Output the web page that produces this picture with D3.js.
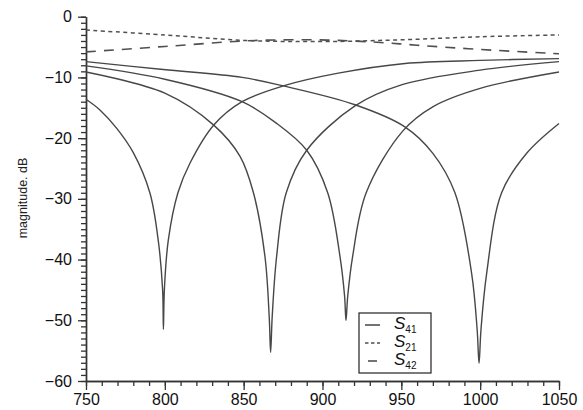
<!DOCTYPE html>
<html>
<head>
<meta charset="utf-8">
<script src="https://cdn.jsdelivr.net/npm/d3@7"></script>
<style>
	body { margin: 0; background: #fff; }
	svg { display: block; font-family: "Liberation Sans", Arial, sans-serif; }
</style>
</head>
<body>
<div id="chart"></div>
<script>
// frequency (x) and magnitude in dB (y)
var s41a = [[750,-13.6],[759,-15.4],[769.5,-18.4],[780,-22.4],[790.5,-29],[795.8,-36.8],[798.6,-45],[799.1,-51.5],[799.7,-45],[802.2,-36.8],[808.3,-29],[816,-24.1],[831.2,-17.8],[849,-14],[875.1,-11.4],[910,-9.3],[952.3,-7.7],[1000,-7.2],[1050,-6.9]];
var s41b = [[750,-9.1],[800,-12.6],[831.2,-17.9],[847.7,-23.0],[856.2,-29],[863.5,-39.5],[866.2,-49.4],[867.1,-55.3],[868.1,-49.4],[870.9,-39.5],[877,-29],[890,-22],[920.6,-14.7],[950.5,-11.2],[1000,-8.8],[1050,-7.4]];
var s41c = [[750,-8.1],[800,-10.3],[849,-14],[870,-17.4],[890,-22],[903.3,-29],[911.1,-39.5],[914,-46],[914.9,-50],[916,-46],[919.1,-39.5],[927.7,-29],[951,-18.8],[970.2,-14.8],[1000,-11.8],[1050,-9.1]];
var s41d = [[750,-7.4],[799,-8.7],[849,-10],[875.1,-11.4],[920.6,-14.5],[952,-18.1],[970,-22.5],[984,-29],[994.6,-42.3],[998.1,-51.6],[999.3,-57.1],[1000.5,-51.6],[1004.1,-42.3],[1013.6,-29],[1029.5,-22.5],[1050,-17.6]];
var s21 = [[750,-2.2],[800,-3.0],[850,-3.9],[900,-4.1],[950,-3.8],[1000,-3.3],[1050,-3.0]];
var s42 = [[750,-5.8],[800,-4.9],[850,-4.0],[880,-3.8],[910,-3.9],[940,-4.3],[960,-4.7],[1000,-5.4],[1050,-6.1]];

var xTicks = [750, 800, 850, 900, 950, 1000, 1050];
var yTicks = [0, -10, -20, -30, -40, -50, -60];
var legendNames = [["S", "41"], ["S", "21"], ["S", "42"]];

var Chart = {

	draw: function() {
		var width = 583, height = 410;
		var svg = d3.select('#chart').append('svg')
			.attr('width', width)
			.attr('height', height);

		var x = d3.scaleLinear().domain([750, 1050]).range([86, 559]);
		var y = d3.scaleLinear().domain([-60, 0]).range([381, 16.7]);

		Chart.axes(svg, x, y);

		var line = d3.line()
			.x(function(d) { return x(d[0]); })
			.y(function(d) { return y(d[1]); })
			.curve(d3.curveCatmullRom.alpha(0.5));

		[s41a, s41b, s41c, s41d].forEach(function(s) {
			svg.append('path')
				.datum(s)
				.attr('d', line)
				.attr('fill', 'none')
				.attr('stroke', '#474747')
				.attr('stroke-width', 1.4);
		});

		svg.append('path')
			.datum(s21)
			.attr('d', line)
			.attr('fill', 'none')
			.attr('stroke', '#505050')
			.attr('stroke-width', 1.5)
			.attr('stroke-dasharray', '4,3.5');

		svg.append('path')
			.datum(s42)
			.attr('d', line)
			.attr('fill', 'none')
			.attr('stroke', '#505050')
			.attr('stroke-width', 1.6)
			.attr('stroke-dasharray', '10,8');

		Chart.legend(svg);
	},

	axes: function(svg, x, y) {
		var minus = function(d) { return d < 0 ? '\u2212' + (-d) : d; };

		// minor ticks first, then the labelled ones on top
		svg.append('g')
			.attr('transform', 'translate(86,0)')
			.call(d3.axisLeft(y).ticks(60).tickSize(5).tickFormat('').tickSizeOuter(0))
			.call(Chart.styleAxis);
		svg.append('g')
			.attr('transform', 'translate(86,0)')
			.call(d3.axisLeft(y).tickValues(yTicks).tickSize(8).tickPadding(6).tickFormat(minus).tickSizeOuter(0))
			.call(Chart.styleAxis);

		svg.append('g')
			.attr('transform', 'translate(0,381)')
			.call(d3.axisBottom(x).ticks(30).tickSize(5).tickFormat('').tickSizeOuter(0))
			.call(Chart.styleAxis);
		svg.append('g')
			.attr('transform', 'translate(0,381)')
			.call(d3.axisBottom(x).tickValues(xTicks).tickSize(9).tickPadding(4).tickFormat(minus).tickSizeOuter(0))
			.call(Chart.styleAxis);

		svg.append('text')
			.attr('transform', 'translate(27,198) rotate(-90)')
			.attr('text-anchor', 'middle')
			.style('font-size', '12.5px')
			.attr('fill', '#222')
			.text('magnitude. dB');
	},

	styleAxis: function(g) {
		g.select('.domain').attr('stroke', '#333').attr('stroke-width', 1.4);
		g.selectAll('.tick line').attr('stroke', '#333').attr('stroke-width', 1.3);
		g.selectAll('.tick text')
			.attr('fill', '#111')
			.style('font-size', '16px');
	},

	legend: function(svg) {
		var g = svg.append('g').attr('transform', 'translate(359,313)');
		g.append('rect')
			.attr('width', 72)
			.attr('height', 60)
			.attr('fill', '#fff')
			.attr('stroke', '#222')
			.attr('stroke-width', 1.2);

		var dashes = [null, '3.5,2.5', null];
		var spans = [[6, 21], [6, 21], [9, 18]];
		legendNames.forEach(function(n, i) {
			var cy = 12 + i * 18;
			g.append('line')
				.attr('x1', spans[i][0]).attr('x2', spans[i][1])
				.attr('y1', cy).attr('y2', cy)
				.attr('stroke', '#505050')
				.attr('stroke-width', 1.6)
				.attr('stroke-dasharray', dashes[i]);
			var t = g.append('text')
				.attr('x', 35)
				.attr('y', cy + 4)
				.attr('fill', '#111')
				.style('font-size', '17px');
			t.append('tspan').style('font-style', 'italic').text(n[0]);
			t.append('tspan')
				.attr('dy', 4)
				.style('font-size', '10px')
				.text(n[1]);
		});
	}
};

Chart.draw();
</script>
</body>
</html>
